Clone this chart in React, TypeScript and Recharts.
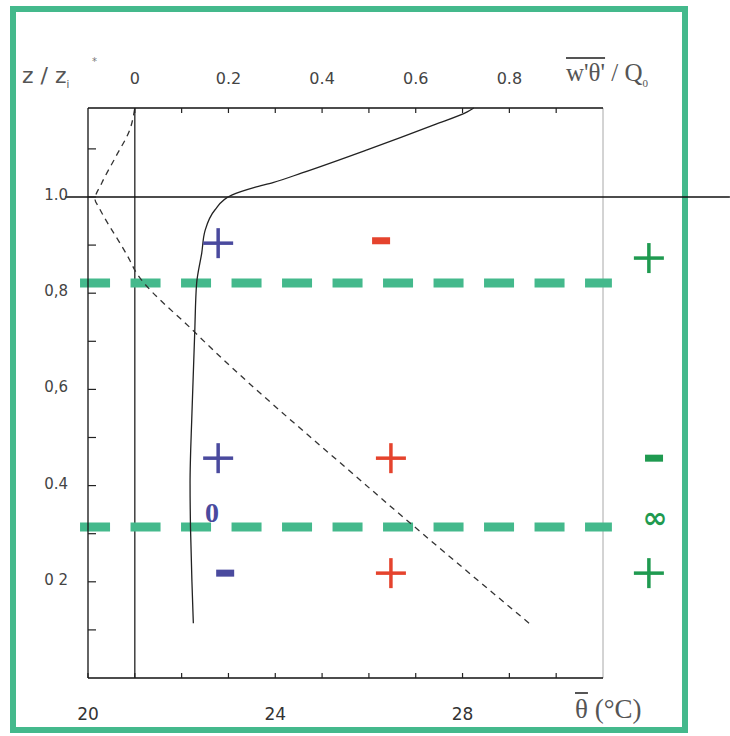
import { ComposedChart, ReferenceDot, ReferenceLine, Scatter, XAxis, YAxis } from 'recharts'

// mean potential temperature profile (solid), bottom axis
const thetaZ = [0.114, 0.2, 0.31, 0.405, 0.55, 0.72, 0.82, 0.884, 0.93, 0.973, 1.004, 1.02, 1.03, 1.05, 1.098, 1.15, 1.177, 1.185]
const thetaValues = [22.25, 22.22, 22.19, 22.18, 22.22, 22.28, 22.32, 22.43, 22.5, 22.71, 23.07, 23.56, 23.95, 24.57, 25.96, 27.39, 28.1, 28.24]

// normalised heat flux profile (dashed), top axis
const fluxZ = [0.114, 0.405, 0.719, 0.848, 0.869, 0.979, 0.995, 1.03, 1.085, 1.139, 1.185]
const fluxValues = [0.842, 0.489, 0.128, 0.0, -0.011, -0.077, -0.085, -0.07, -0.04, -0.011, 0.0]

const fluxTicks = [0, 0.1, 0.2, 0.3, 0.4, 0.5, 0.6, 0.7, 0.8, 0.9]
const fluxTickLabels = ['0', '', '0.2', '', '0.4', '', '0.6', '', '0.8', '']
const thetaTicks = [20, 21, 22, 23, 24, 25, 26, 27, 28, 29, 30]
const thetaTickLabels = ['20', '', '', '', '24', '', '', '', '28', '', '']
const zTicks = [0.1, 0.2, 0.3, 0.4, 0.5, 0.6, 0.7, 0.8, 0.9, 1.0, 1.1]
const zTickLabels = ['', '0 2', '', '0.4', '', '0,6', '', '0,8', '', '1.0', '']

const inversionZ = 1.0
const layerBoundsZ = [0.821, 0.314]

// sign annotations: column 0 = gradient, 1 = flux, 2 = diffusivity
const signGlyphs = ['+', '-', '+', '+', '+', '-', '0', '∞', '-', '+', '+']
const signColumn = [0, 1, 2, 0, 1, 2, 0, 2, 0, 1, 2]
const signTheta = [22.78, 26.26, 31.98, 22.78, 26.47, 32.09, 22.65, 32.11, 22.93, 26.47, 31.98]
const signZ = [0.904, 0.909, 0.873, 0.457, 0.457, 0.457, 0.345, 0.335, 0.218, 0.218, 0.218]

const thetaData = thetaZ.map((z, i) => ({ z, theta: thetaValues[i] }))
const fluxData = fluxZ.map((z, i) => ({ z, flux: fluxValues[i] }))

const columnColors = ['#4a4a9e', '#e5432d', '#1f9a50']
const teal = '#44b98c'
const tickFont = 'DejaVu Sans, sans-serif'

function FluxTick({ x, y, index }: any) {
  const label = fluxTickLabels[index]
  return (
    <g>
      <line x1={x} y1={y} x2={x} y2={y + 5} stroke="#222" strokeWidth={1.2} />
      {label ? (
        <text x={x} y={y - 30} textAnchor="middle" dominantBaseline="central" fontFamily={tickFont} fontSize={16} fill="#444">
          {label}
        </text>
      ) : null}
    </g>
  )
}

function ThetaTick({ x, y, index }: any) {
  const label = thetaTickLabels[index]
  return (
    <g>
      <line x1={x} y1={y} x2={x} y2={y - 5} stroke="#222" strokeWidth={1.2} />
      {label ? (
        <text x={x} y={y + 36} textAnchor="middle" dominantBaseline="central" fontFamily={tickFont} fontSize={17} fill="#333">
          {label}
        </text>
      ) : null}
    </g>
  )
}

function ZTick({ x, y, index }: any) {
  const label = zTickLabels[index]
  return (
    <g>
      <line x1={x} y1={y} x2={x + 8} y2={y} stroke="#222" strokeWidth={1.2} />
      {label ? (
        <text x={x - 20} y={y - 2} textAnchor="end" dominantBaseline="central" fontFamily={tickFont} fontSize={15} fill="#444">
          {label}
        </text>
      ) : null}
    </g>
  )
}

function SignMark({ cx, cy, glyph, color }: any) {
  if (glyph === '+') {
    return (
      <g stroke={color} strokeWidth={3.5}>
        <line x1={cx - 15} y1={cy} x2={cx + 15} y2={cy} />
        <line x1={cx} y1={cy - 15} x2={cx} y2={cy + 15} />
      </g>
    )
  }
  if (glyph === '-') {
    return <rect x={cx - 9} y={cy - 3.5} width={18} height={7} fill={color} />
  }
  if (glyph === '∞') {
    return (
      <text x={cx} y={cy + 1} textAnchor="middle" dominantBaseline="central" fontFamily="DejaVu Sans, sans-serif" fontWeight="bold" fontSize={30} fill={color}>
        {glyph}
      </text>
    )
  }
  return (
    <text x={cx} y={cy} textAnchor="middle" dominantBaseline="central" fontFamily="Liberation Serif, serif" fontWeight="bold" fontSize={28} fill={color}>
      {glyph}
    </text>
  )
}

const noPoint = () => <g />

export default function App() {
  return (
    <div style={{ position: 'absolute', left: 0, top: 0, width: 730, height: 736, background: '#fff' }}>
      <div
        style={{
          position: 'absolute',
          left: 10,
          top: 6,
          width: 678,
          height: 727,
          boxSizing: 'border-box',
          border: `6px solid ${teal}`,
        }}
      />
      <div style={{ position: 'absolute', left: 0, top: 0 }}>
        <ComposedChart width={730} height={736} margin={{ top: 107, right: 127, bottom: 57, left: 87 }}>
          <XAxis
            xAxisId="theta"
            dataKey="theta"
            type="number"
            orientation="bottom"
            domain={[20, 31]}
            ticks={thetaTicks}
            interval={0}
            height={1}
            tickSize={0}
            tickMargin={0}
            tickLine={false}
            tick={<ThetaTick />}
            axisLine={{ stroke: '#111', strokeWidth: 1.3 }}
          />
          <XAxis
            xAxisId="flux"
            dataKey="flux"
            type="number"
            orientation="top"
            domain={[-0.1, 1.0]}
            ticks={fluxTicks}
            interval={0}
            height={1}
            tickSize={0}
            tickMargin={0}
            tickLine={false}
            tick={<FluxTick />}
            axisLine={{ stroke: '#111', strokeWidth: 1.3 }}
          />
          <YAxis
            yAxisId="z"
            dataKey="z"
            type="number"
            domain={[0, 1.185]}
            ticks={zTicks}
            interval={0}
            width={1}
            tickSize={0}
            tickMargin={0}
            tickLine={false}
            tick={<ZTick />}
            axisLine={{ stroke: '#111', strokeWidth: 1.3 }}
          />
          <ReferenceLine xAxisId="flux" yAxisId="z" x={1.0} stroke="#a8a8a8" strokeWidth={1} />
          <ReferenceLine xAxisId="flux" yAxisId="z" x={0} stroke="#222" strokeWidth={1.3} />
          <Scatter
            xAxisId="flux"
            yAxisId="z"
            data={fluxData}
            fill="#333"
            shape={noPoint}
            line={{ stroke: '#333', strokeWidth: 1.3, strokeDasharray: '6 5' }}
            lineJointType="monotoneY"
            isAnimationActive={false}
          />
          <Scatter
            xAxisId="theta"
            yAxisId="z"
            data={thetaData}
            fill="#222"
            shape={noPoint}
            line={{ stroke: '#222', strokeWidth: 1.3 }}
            lineJointType="monotoneY"
            isAnimationActive={false}
          />
          <ReferenceLine
            xAxisId="theta"
            yAxisId="z"
            segment={[{ x: 19.51, y: inversionZ }, { x: 33.71, y: inversionZ }]}
            ifOverflow="visible"
            stroke="#111"
            strokeWidth={1.4}
          />
          {layerBoundsZ.map((z) => (
            <ReferenceLine
              key={z}
              xAxisId="theta"
              yAxisId="z"
              segment={[{ x: 19.83, y: z }, { x: 31.19, y: z }]}
              ifOverflow="visible"
              stroke={teal}
              strokeWidth={9}
              strokeDasharray="30 20.5"
            />
          ))}
          {signGlyphs.map((g, i) => (
            <ReferenceDot
              key={i}
              xAxisId="theta"
              yAxisId="z"
              x={signTheta[i]}
              y={signZ[i]}
              ifOverflow="visible"
              shape={(p: any) => <SignMark cx={p.cx} cy={p.cy} glyph={g} color={columnColors[signColumn[i]]} />}
            />
          ))}
        </ComposedChart>
      </div>
      <div style={{ position: 'absolute', left: 22, top: 63, fontFamily: tickFont, fontSize: 22, color: '#555', whiteSpace: 'nowrap' }}>
        z / z<sub style={{ fontSize: 10 }}>i</sub>
      </div>
      <div style={{ position: 'absolute', left: 92, top: 56, fontFamily: tickFont, fontSize: 10, color: '#777' }}>*</div>
      <div style={{ position: 'absolute', left: 566, top: 59, fontFamily: 'Liberation Serif, serif', fontSize: 25, color: '#555', whiteSpace: 'nowrap' }}>
        <span style={{ textDecoration: 'overline' }}>w'θ'</span> / Q<sub style={{ fontSize: 11 }}>0</sub>
      </div>
      <div style={{ position: 'absolute', left: 575, top: 694, fontFamily: 'Liberation Serif, serif', fontSize: 27, color: '#555', whiteSpace: 'nowrap' }}>
        <span style={{ textDecoration: 'overline' }}>θ</span> (°C)
      </div>
    </div>
  )
}
